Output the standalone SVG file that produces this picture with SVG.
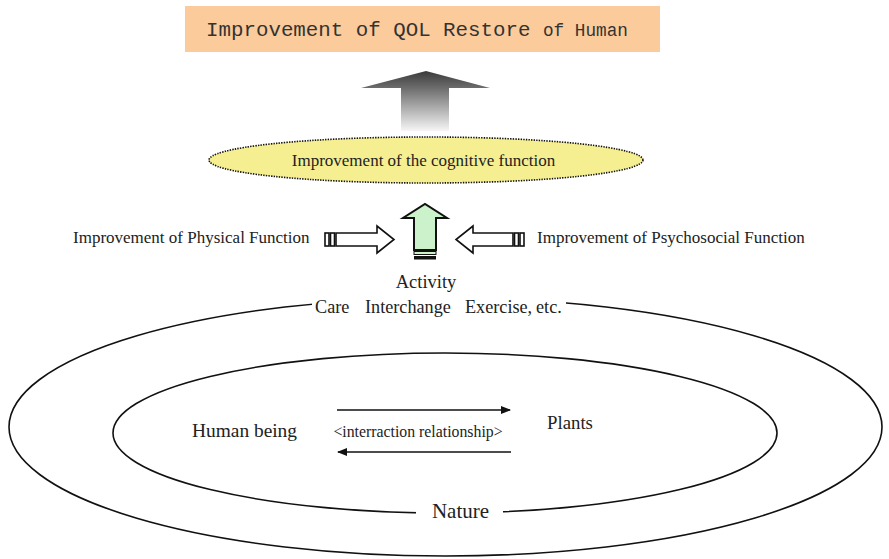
<svg xmlns="http://www.w3.org/2000/svg" width="889" height="559" viewBox="0 0 889 559">
<style>
.serif{fill:#222}
.ell{fill:none;stroke:#111;stroke-width:1.6}
.wa{fill:#fff;stroke:#111;stroke-width:1.6}
</style>
<defs>
<linearGradient id="gray" gradientUnits="userSpaceOnUse" x1="0" y1="71" x2="0" y2="131">
<stop offset="0" stop-color="#3a3a3a"/>
<stop offset="0.3" stop-color="#707070"/>
<stop offset="1" stop-color="#f6f6f6"/>
</linearGradient>
<marker id="ah" markerWidth="10" markerHeight="8" refX="9" refY="4" orient="auto" markerUnits="userSpaceOnUse">
<path d="M0,0 L10,4 L0,8 Z" fill="#111"/>
</marker>
</defs>
<rect width="889" height="559" fill="#fff"/>
<g font-family="'Liberation Serif', 'Times New Roman', serif">

<g id="inner">
<ellipse class="ell" cx="445" cy="433" rx="332" ry="80"/>
</g>

<g id="nature">
<ellipse class="ell" cx="445.5" cy="427" rx="436.5" ry="129"/>
<rect x="312" y="292" width="254" height="20" fill="#fff"/>
<rect x="416" y="503" width="87" height="18" fill="#fff"/>
<text class="serif" x="460.5" y="518" font-size="21" text-anchor="middle">Nature</text>
</g>

<g id="title">
<rect x="185" y="6" width="475" height="46" fill="#FBCB9B"/>
<text x="206" y="36" font-family="'Liberation Mono', 'Courier New', monospace" font-size="20.8" fill="#333">Improvement of QOL Restore <tspan font-size="17.7">of Human</tspan></text>
</g>

<g id="cognitive">
<ellipse cx="426" cy="160" rx="217" ry="23" fill="#F6EF91" stroke="#111" stroke-width="1.6" stroke-dasharray="1.4,1.2"/>
<text class="serif" x="423.5" y="166" font-size="17" text-anchor="middle">Improvement of the cognitive function</text>
</g>

<g id="physical">
<text class="serif" x="73" y="243" font-size="17">Improvement of Physical Function</text>
</g>

<g id="psychosocial">
<text class="serif" x="537" y="243" font-size="17">Improvement of Psychosocial Function</text>
</g>

<g id="activity">
<text class="serif" x="426" y="288" font-size="18.5" text-anchor="middle">Activity</text>
<text class="serif" y="313" font-size="18.2"><tspan x="315">Care</tspan><tspan x="365">Interchange</tspan><tspan x="465">Exercise,</tspan><tspan x="536">etc.</tspan></text>
</g>

<g id="human">
<text class="serif" x="192" y="437" font-size="19.4">Human being</text>
</g>

<g id="plants">
<text class="serif" x="547" y="429" font-size="18.8">Plants</text>
</g>

<g id="connectors">
<polygon points="401,131 401,88 361,88 426,71 490,88 449,88 449,131" fill="url(#gray)"/>
<polygon points="414,250 414,218 403,218 425,204 447,218 436,218 436,250" fill="#CCF2CC" stroke="#111" stroke-width="2"/>
<rect x="414" y="251.5" width="22" height="3" fill="#CCF2CC" stroke="#111" stroke-width="1"/>
<rect x="414" y="256" width="22" height="3.5" fill="#111"/>
<polygon class="wa" points="336,233 377,233 377,226 394,239.5 377,253 377,246 336,246"/>
<rect class="wa" x="325" y="233" width="4" height="13"/>
<rect class="wa" x="330.5" y="233" width="4" height="13"/>
<polygon class="wa" points="513,233 473,233 473,226 456,239.5 473,253 473,246 513,246"/>
<rect class="wa" x="514.5" y="233" width="4" height="13"/>
<rect class="wa" x="520" y="233" width="4" height="13"/>
<line x1="337" y1="410" x2="510" y2="410" stroke="#111" stroke-width="1.3" marker-end="url(#ah)"/>
<line x1="511" y1="452" x2="338" y2="452" stroke="#111" stroke-width="1.3" marker-end="url(#ah)"/>
<text class="serif" x="418" y="437" font-size="15.8" text-anchor="middle">&lt;interraction relationship&gt;</text>
</g>
</g>
</svg>
